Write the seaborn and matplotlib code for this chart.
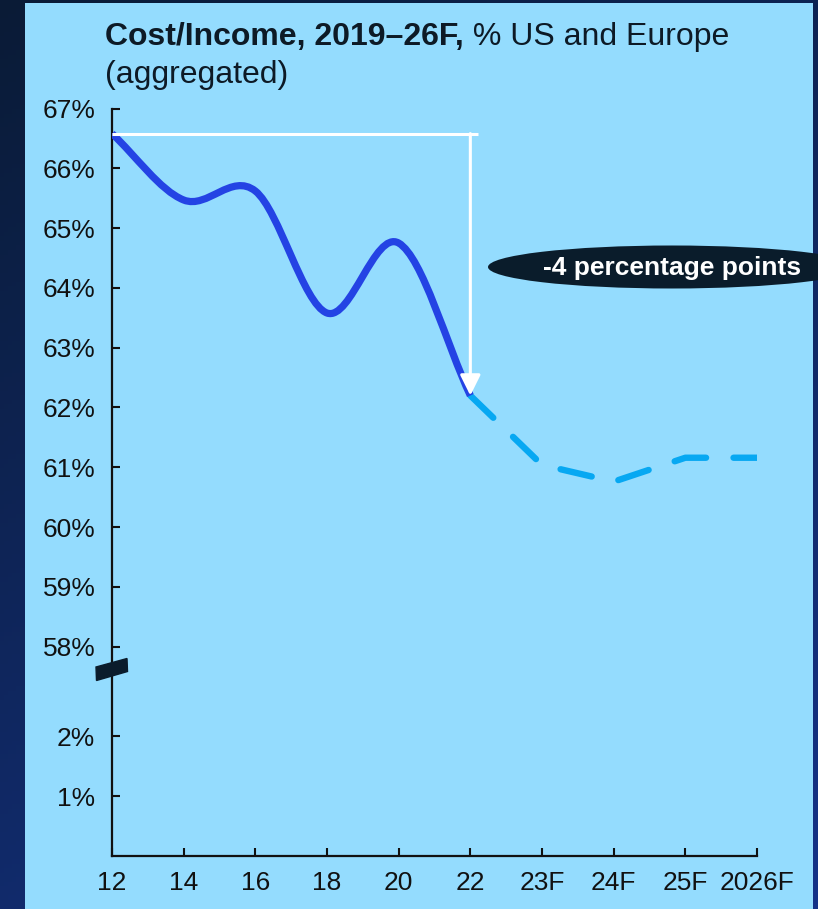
import numpy as np
import pandas as pd
import matplotlib
matplotlib.use("Agg")
import matplotlib.pyplot as plt
from matplotlib.path import Path
from matplotlib.patches import PathPatch, Rectangle, Polygon, Ellipse
import seaborn as sns

# ---- data ----
x_labels = ["12", "14", "16", "18", "20", "22", "23F", "24F", "25F", "2026F"]
hist_pos = [0, 1, 2, 3, 4, 5]
hist_vals = [66.58, 65.47, 65.62, 63.58, 64.75, 62.20]          # Cost/Income, %
fcst_pos = [5, 6, 7, 8, 9]
fcst_vals = [62.20, 61.04, 60.76, 61.16, 61.16]                 # forecast, %
y_tick_vals = [1, 2, 58, 59, 60, 61, 62, 63, 64, 65, 66, 67]
delta_label = "-4 percentage points"

W, H = 818, 909
BREAK_SHIFT = 54.5   # values >= 58 are shifted down to sit above the axis break


def to_axis(v):
    v = np.asarray(v, dtype=float)
    return np.where(v >= 50, v - BREAK_SHIFT, v)


sns.set_style("ticks")
plt.rcParams["font.family"] = ["Liberation Sans", "DejaVu Sans"]

fig = plt.figure(figsize=(W / 100, H / 100), dpi=100)

# background: navy gradient plus light-blue panel
bg = fig.add_axes([0, 0, 1, 1], zorder=-1)
bg.set_xlim(0, W)
bg.set_ylim(H, 0)
bg.axis("off")
gx, gy = np.meshgrid(np.linspace(0, 1, 200), np.linspace(0, 1, 200))
t = (0.35 * gx + 0.65 * gy)
c0 = np.array([0x0a, 0x1b, 0x36]) / 255
c1 = np.array([0x15, 0x33, 0x88]) / 255
grad = c0[None, None, :] * (1 - t[..., None]) + c1[None, None, :] * t[..., None]
bg.imshow(grad, extent=[0, W, H, 0], aspect="auto", zorder=0)
bg.add_patch(Rectangle((25, 3), 788, H, facecolor="#94dcfe", edgecolor="none", zorder=1))

# main axes
ax_l, ax_r = 112 / W, 757 / W
ax_b, ax_t = (H - 856) / H, (H - 108.5) / H
ax = fig.add_axes([ax_l, ax_b, ax_r - ax_l, ax_t - ax_b])
ax.patch.set_alpha(0)
ax.set_xlim(0, 9)
ax.set_ylim(0, 12.5)

# smoothed historical curve (Catmull-Rom as cubic Bezier)
hx = np.array(hist_pos, dtype=float)
hy = to_axis(hist_vals)
n = len(hx)
mx = np.empty(n)
my = np.empty(n)
for i in range(n):
    if i == 0:
        mx[i], my[i] = hx[1] - hx[0], hy[1] - hy[0]
    elif i == n - 1:
        mx[i], my[i] = hx[-1] - hx[-2], hy[-1] - hy[-2]
    else:
        mx[i], my[i] = (hx[i + 1] - hx[i - 1]) / 2, (hy[i + 1] - hy[i - 1]) / 2
verts = [(hx[0], hy[0])]
codes = [Path.MOVETO]
for i in range(n - 1):
    verts += [(hx[i] + mx[i] / 3, hy[i] + my[i] / 3),
              (hx[i + 1] - mx[i + 1] / 3, hy[i + 1] - my[i + 1] / 3),
              (hx[i + 1], hy[i + 1])]
    codes += [Path.CURVE4] * 3
ax.add_patch(PathPatch(Path(verts, codes), fill=False, edgecolor="#2443e4",
                       linewidth=5.2, capstyle="butt", joinstyle="round", zorder=3))

# forecast (dashed)
fc = pd.DataFrame({"pos": fcst_pos, "val": to_axis(fcst_vals)})
sns.lineplot(data=fc, x="pos", y="val", ax=ax, color="#07a8f2", linewidth=4.6,
             linestyle=(0, (5.0, 4.3)), dash_capstyle="round", zorder=2)
ax.set_xlabel("")
ax.set_ylabel("")

# white bracket arrow showing the decline
top_y = to_axis(hist_vals[0])
ax.plot([0, 5.11], [top_y, top_y], color="white", linewidth=2.2, zorder=4,
        solid_capstyle="butt")
ax.annotate("", xy=(hist_pos[-1], to_axis(hist_vals[-1])), xytext=(hist_pos[-1], top_y),
            arrowprops=dict(arrowstyle="-|>,head_length=1.25,head_width=0.62",
                            color="white", lw=2.2, shrinkA=0, shrinkB=0), zorder=5)

# axes styling
for s in ["top", "right"]:
    ax.spines[s].set_visible(False)
for s in ["left", "bottom"]:
    ax.spines[s].set_linewidth(1.6)
    ax.spines[s].set_color("#111111")
ax.set_xticks(range(len(x_labels)))
ax.set_xticklabels(x_labels)
ax.set_yticks(to_axis(y_tick_vals))
ax.set_yticklabels([f"{v}%" for v in y_tick_vals])
ax.tick_params(axis="both", direction="in", length=6, width=1.5, color="#111111",
               labelsize=19, labelcolor="#111111")
ax.tick_params(axis="y", pad=12)
ax.tick_params(axis="x", pad=11)


def fig_xy(px, py):
    return (px / W, (H - py) / H)


# axis break marker
brk = [fig_xy(96, 667), fig_xy(127, 658.5), fig_xy(127.5, 671.5), fig_xy(96.5, 680.5)]
fig.patches.append(Polygon(brk, closed=True, transform=fig.transFigure,
                           facecolor="#0b1c2c", edgecolor="#0b1c2c", linewidth=1, zorder=6))

# callout
fig.patches.append(Ellipse(fig_xy(672, 267), 368 / W, 43 / H, transform=fig.transFigure,
                           facecolor="#0a1c2b", edgecolor="none", zorder=6))
fig.text(672 / W, (H - 268) / H, delta_label, ha="center", va="center", color="white",
         fontsize=19, fontweight="bold", zorder=7)

# title
t1 = fig.text(105 / W, (H - 45) / H, "Cost/Income, 2019–26F,", fontsize=23,
              fontweight="bold", color="#0d1a26", va="baseline")
r = fig.canvas.get_renderer()
bb = t1.get_window_extent(r)
fig.text(bb.x1 / W, (H - 45) / H, " % US and Europe", fontsize=23, color="#0d1a26",
         va="baseline")
fig.text(105 / W, (H - 83) / H, "(aggregated)", fontsize=23, color="#0d1a26",
         va="baseline")

fig.savefig("out.png", dpi=100)
